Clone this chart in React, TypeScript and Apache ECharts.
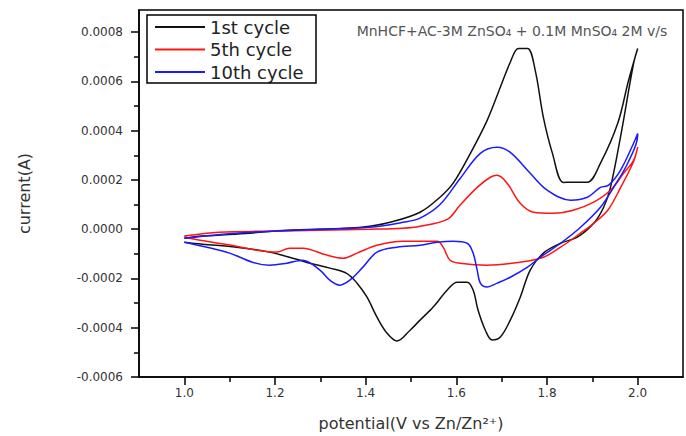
import React, { useEffect, useRef } from "react";
import * as echarts from "echarts";

// Axis ticks
const potentialTicks = [1.0, 1.2, 1.4, 1.6, 1.8, 2.0];
const potentialMinorTicks = [1.1, 1.3, 1.5, 1.7, 1.9];
const currentTicks = [-0.0006, -0.0004, -0.0002, 0, 0.0002, 0.0004, 0.0006, 0.0008];
const currentMinorTicks = [-0.0005, -0.0003, -0.0001, 0.0001, 0.0003, 0.0005, 0.0007];

const seriesNames = ["1st cycle", "5th cycle", "10th cycle"];
const seriesColors = ["#111111", "#ff1414", "#1a1aff"];

// [potential (V), current (µA)]
const cycle1Anodic: [number, number][] = [
  [1.0, -37], [1.04, -28], [1.144, -16], [1.226, -4], [1.358, 4], [1.409, 12], [1.454, 28],
  [1.52, 69], [1.564, 130], [1.593, 187], [1.631, 308], [1.668, 442], [1.697, 576], [1.719, 678],
  [1.737, 734], [1.757, 734], [1.774, 645], [1.792, 454], [1.812, 308], [1.836, 190], [1.858, 191],
  [1.889, 191], [1.918, 268], [1.956, 430], [1.98, 605], [2.0, 734],
];
const cycle1Cathodic: [number, number][] = [
  [2.0, 734], [1.991, 673], [1.962, 373], [1.94, 170], [1.925, 89], [1.903, 24], [1.867, -32],
  [1.83, -57], [1.792, -97], [1.763, -166], [1.741, -276], [1.719, -369], [1.697, -438], [1.679, -450],
  [1.664, -410], [1.648, -329], [1.637, -247], [1.624, -215], [1.602, -215], [1.58, -247], [1.549, -316],
  [1.52, -369], [1.498, -410], [1.469, -454], [1.447, -422], [1.425, -357], [1.403, -276], [1.381, -219],
  [1.358, -179], [1.321, -158], [1.277, -138], [1.248, -122], [1.188, -93], [1.115, -73], [1.04, -61],
  [1.0, -53],
];
const cycle5Anodic: [number, number][] = [
  [1.0, -28], [1.077, -12], [1.188, -8], [1.299, -4], [1.409, 0], [1.482, 4], [1.52, 12], [1.58, 40],
  [1.608, 97], [1.646, 170], [1.675, 211], [1.69, 219], [1.712, 187], [1.741, 105], [1.77, 69],
  [1.814, 65], [1.858, 77], [1.903, 110], [1.94, 158], [1.969, 227], [1.991, 280], [2.0, 333],
];
const cycle5Cathodic: [number, number][] = [
  [2.0, 333], [1.991, 275], [1.962, 168], [1.934, 77], [1.903, 24], [1.874, -16], [1.83, -73],
  [1.792, -114], [1.741, -134], [1.668, -146], [1.608, -138], [1.586, -126], [1.571, -73], [1.558, -49],
  [1.52, -49], [1.482, -49], [1.425, -65], [1.381, -97], [1.35, -118], [1.314, -105], [1.261, -77],
  [1.232, -77], [1.204, -93], [1.159, -85], [1.115, -69], [1.062, -53], [1.011, -37], [1.0, -28],
];
const cycle10Anodic: [number, number][] = [
  [1.0, -37], [1.115, -16], [1.299, 0], [1.409, 8], [1.482, 28], [1.52, 45], [1.564, 100],
  [1.608, 205], [1.653, 308], [1.69, 333], [1.719, 312], [1.763, 227], [1.801, 158], [1.852, 118],
  [1.889, 130], [1.918, 170], [1.936, 179], [1.962, 239], [1.991, 349], [2.0, 389],
];
const cycle10Cathodic: [number, number][] = [
  [2.0, 381], [1.978, 268], [1.947, 170], [1.918, 89], [1.874, 8], [1.83, -57], [1.785, -114],
  [1.757, -154], [1.719, -195], [1.69, -219], [1.668, -235], [1.653, -219], [1.646, -166],
  [1.637, -97], [1.624, -57], [1.593, -49], [1.558, -53], [1.52, -65], [1.469, -73], [1.425, -93],
  [1.394, -154], [1.365, -207], [1.343, -227], [1.321, -207], [1.299, -166], [1.261, -126],
  [1.226, -138], [1.188, -146], [1.15, -134], [1.1, -97], [1.04, -69], [1.011, -57], [1.0, -53],
];

const cycles = [
  [cycle1Anodic, cycle1Cathodic],
  [cycle5Anodic, cycle5Cathodic],
  [cycle10Anodic, cycle10Cathodic],
];

const FONT = "DejaVu Sans";

export default function App() {
  const ref = useRef<HTMLDivElement>(null);
  useEffect(() => {
    if (!ref.current) return;
    const chart = echarts.init(ref.current, undefined, { renderer: "svg" });
    const axisLineStyle = { color: "#000", width: 1.5 };
    const labelStyle = { color: "#333", fontSize: 12, fontFamily: FONT };
    const option: any = {
      animation: false,
      backgroundColor: "#ffffff",
      grid: {
        left: 139, right: 3, top: 10, bottom: 58,
        show: true, borderColor: "#000", borderWidth: 1.5, backgroundColor: "transparent",
      },
      legend: {
        data: seriesNames,
        orient: "vertical",
        left: 155,
        top: 18,
        padding: 0,
        itemGap: 4.5,
        itemWidth: 50,
        itemHeight: 2,
        icon: "rect",
        textStyle: { fontSize: 18, fontFamily: FONT, color: "#222" },
      },
      xAxis: [
        {
          type: "value", min: 0.9, max: 2.1,
          name: "potential(V vs Zn/Zn²⁺)", nameLocation: "middle", nameGap: 38,
          nameTextStyle: { fontSize: 16, fontFamily: FONT, color: "#333" },
          axisLine: { show: true, onZero: false, lineStyle: axisLineStyle },
          axisTick: { show: true, inside: false, length: 8, customValues: potentialTicks, lineStyle: axisLineStyle },
          axisLabel: { ...labelStyle, margin: 10, customValues: potentialTicks, formatter: (v: number) => v.toFixed(1) },
          splitLine: { show: false },
        },
        {
          type: "value", min: 0.9, max: 2.1, position: "bottom",
          axisLine: { show: false, onZero: false },
          axisTick: { show: true, inside: false, length: 5, customValues: potentialMinorTicks, lineStyle: axisLineStyle },
          axisLabel: { show: false, customValues: potentialMinorTicks },
          splitLine: { show: false },
        },
      ],
      yAxis: [
        {
          type: "value", min: -0.0006, max: 0.00089,
          name: "current(A)", nameLocation: "middle", nameGap: 107,
          nameTextStyle: { fontSize: 16, fontFamily: FONT, color: "#333" },
          axisLine: { show: true, onZero: false, lineStyle: axisLineStyle },
          axisTick: { show: true, inside: false, length: 8, customValues: currentTicks, lineStyle: axisLineStyle },
          axisLabel: { ...labelStyle, margin: 16, customValues: currentTicks, formatter: (v: number) => v.toFixed(4) },
          splitLine: { show: false },
        },
        {
          type: "value", min: -0.0006, max: 0.00089, position: "left",
          axisLine: { show: false, onZero: false },
          axisTick: { show: true, inside: false, length: 5, customValues: currentMinorTicks, lineStyle: axisLineStyle },
          axisLabel: { show: false, customValues: currentMinorTicks },
          splitLine: { show: false },
        },
      ],
      graphic: [
        {
          type: "rect",
          shape: { x: 147, y: 15, width: 169, height: 68 },
          style: { fill: "none", stroke: "#000", lineWidth: 1.5 },
          z: 10,
        },
        {
          type: "text",
          x: 512,
          y: 31,
          style: {
            text: "MnHCF+AC-3M ZnSO₄ + 0.1M MnSO₄ 2M v/s",
            fontSize: 14,
            fontFamily: FONT,
            fill: "#555",
            textAlign: "center",
            textVerticalAlign: "middle",
          },
          z: 10,
        },
      ],
      series: cycles.map((pair, i) => ({
        name: seriesNames[i],
        type: "line",
        xAxisIndex: 0,
        yAxisIndex: 0,
        showSymbol: false,
        symbol: "none",
        smooth: 0.35,
        clip: false,
        color: seriesColors[i],
        lineStyle: { color: seriesColors[i], width: 1.5 },
        data: pair[0].concat(pair[1]).map(([v, c]) => [v, c * 1e-6]),
      })),
    };
    chart.setOption(option);
    return () => chart.dispose();
  }, []);
  return (
    <div
      ref={ref}
      style={{ position: "fixed", left: 0, top: 0, width: 686, height: 436, background: "#fff" }}
    />
  );
}
